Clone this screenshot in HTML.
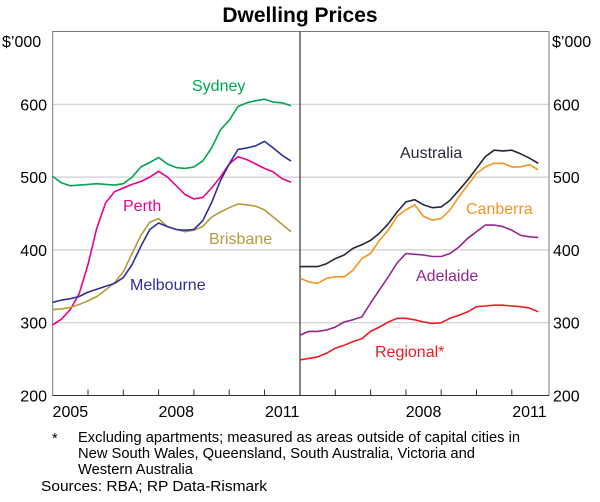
<!DOCTYPE html>
<html><head><meta charset="utf-8"><style>
body{margin:0;background:#fff;font-family:"Liberation Sans",Arial,sans-serif;}
</style></head><body>
<svg id="chart" width="600" height="497" xmlns="http://www.w3.org/2000/svg" font-family="Liberation Sans, Arial, sans-serif"></svg>
<script>
const yTicks=[200,300,400,500,600];
const yearLabelsLeft=["2005","2008","2011"];
const yearLabelsRight=["2008","2011"];
const sydney=[501,492,488,489,490,491,490,489,491,500,514,520,527,518,513,512,514,522,540,565,578,597,602,605,607,603,602,598];
const perth=[297,305,318,340,380,430,465,480,485,490,494,500,508,500,488,476,470,472,485,500,518,528,524,518,512,507,498,493];
const melbourne=[328,331,333,336,342,346,350,354,362,380,405,428,437,432,428,427,428,440,465,495,518,538,540,543,549,540,530,522];
const brisbane=[318,319,321,325,330,336,345,355,370,395,420,438,443,432,428,425,427,432,445,452,458,463,462,460,455,445,435,425];
const australia=[377,377,377,381,388,393,402,407,413,423,436,452,466,469,462,458,459,468,482,496,512,528,537,536,537,532,526,519];
const canberra=[361,356,354,361,363,363,372,388,395,413,427,446,455,462,446,441,443,455,473,489,505,514,519,519,514,514,517,510];
const adelaide=[283,288,288,290,294,301,304,308,327,345,363,382,395,394,393,391,391,395,404,416,425,434,434,432,427,420,418,417];
const regional=[249,251,253,258,265,269,274,278,288,294,301,306,306,304,301,299,300,306,310,315,322,323,324,324,323,322,320,315];

const svg=document.getElementById('chart');
const NS='http://www.w3.org/2000/svg';
function mk(tag,attrs,parent){const e=document.createElementNS(NS,tag);for(const k in attrs)e.setAttribute(k,attrs[k]);(parent||svg).appendChild(e);return e;}
const yTop=31.5,bot=395.5,L0=52.7,L1=300,R1=549,yr=35.3;
const y=v=>bot-(v-200)*(bot-yTop)/500;
const xL=t=>L0+(t-2005)*yr;
const xR=t=>L1+(t-2005)*yr;

let t=mk('text',{x:300,y:22,'text-anchor':'middle','font-size':21,'font-weight':'bold',fill:'#000'});


t.textContent='Dwelling Prices';
yTicks.forEach(v=>{if(v===200)return;const g=mk('line',{x1:L0,x2:R1,y1:y(v),y2:y(v),stroke:'#cfcfcf','stroke-width':1.2});

});
let f=mk('rect',{x:L0,y:yTop,width:R1-L0,height:bot-yTop,fill:'none',stroke:'#777','stroke-width':1});


let bl=mk('line',{x1:L0,x2:R1,y1:bot,y2:bot,stroke:'#333','stroke-width':1});


let dv=mk('line',{x1:L1,x2:L1,y1:yTop,y2:bot,stroke:'#333','stroke-width':1.2});


for(let i=1;i<7;i++){[xL(2005+i),xR(2005+i)].forEach(xx=>{const k=mk('line',{x1:xx,x2:xx,y1:bot,y2:bot-6,stroke:'#333'});

});}
yTicks.forEach(v=>{
 const a=mk('text',{x:47,y:y(v)+6,'text-anchor':'end','font-size':16,fill:'#000'});
 
 
 a.textContent=v;
 const b=mk('text',{x:553,y:y(v)+6,'text-anchor':'start','font-size':16,fill:'#000'});
 
 
 b.textContent=v;
});
let u1=mk('text',{x:2,y:47,'font-size':16});


u1.textContent='$’000';
let u2=mk('text',{x:552,y:47,'font-size':16});


u2.textContent='$’000';
yearLabelsLeft.forEach(s=>{const e=mk('text',{x:xL(+s+0.5),y:417,'text-anchor':'middle','font-size':16});


e.textContent=s;});
yearLabelsRight.forEach(s=>{const e=mk('text',{x:xR(+s+0.5),y:417,'text-anchor':'middle','font-size':16});


e.textContent=s;});
function line(data,xf,color,name){
 const d=data.map((v,i)=>(i?'L':'M')+xf(2005+i*0.25).toFixed(1)+','+y(v).toFixed(1)).join('');
 const p=mk('path',{d:d,fill:'none',stroke:color,'stroke-width':1.6,'stroke-linejoin':'round'});
 
 
}
line(sydney,xL,'#00a651','sydney-line');
line(perth,xL,'#ec008c','perth-line');
line(brisbane,xL,'#b49b3a','brisbane-line');
line(melbourne,xL,'#2e3192','melbourne-line');
line(australia,xR,'#262638','australia-line');
line(canberra,xR,'#f7941d','canberra-line');
line(adelaide,xR,'#92278f','adelaide-line');
line(regional,xR,'#ed1c24','regional-line');
function lab(x,yy,s,c,n){const e=mk('text',{x:x,y:yy,'font-size':16,fill:c});


e.textContent=s;}
lab(192,91,'Sydney','#00a651','sydney-label');
lab(123,211,'Perth','#ec008c','perth-label');
lab(209,244,'Brisbane','#b49b3a','brisbane-label');
lab(130,290,'Melbourne','#2e3192','melbourne-label');
lab(400,158,'Australia','#262638','australia-label');
lab(466,214,'Canberra','#f7941d','canberra-label');
lab(416,281,'Adelaide','#92278f','adelaide-label');
lab(375,357,'Regional*','#ed1c24','regional-label');
const notes=[[52,443,'*',0],[78,442,'Excluding apartments; measured as areas outside of capital cities in',442],[78,458,'New South Wales, Queensland, South Australia, Victoria and',397],[78,474,'Western Australia',115],[41,491,'Sources: RBA; RP Data-Rismark',226]];
notes.forEach(n=>{const a={x:n[0],y:n[1],'font-size':14.5,fill:'#000'};if(n[3]){a.textLength=n[3];a.lengthAdjust='spacingAndGlyphs';}
const e=mk('text',a);


e.textContent=n[2];});
</script>
</body></html>
